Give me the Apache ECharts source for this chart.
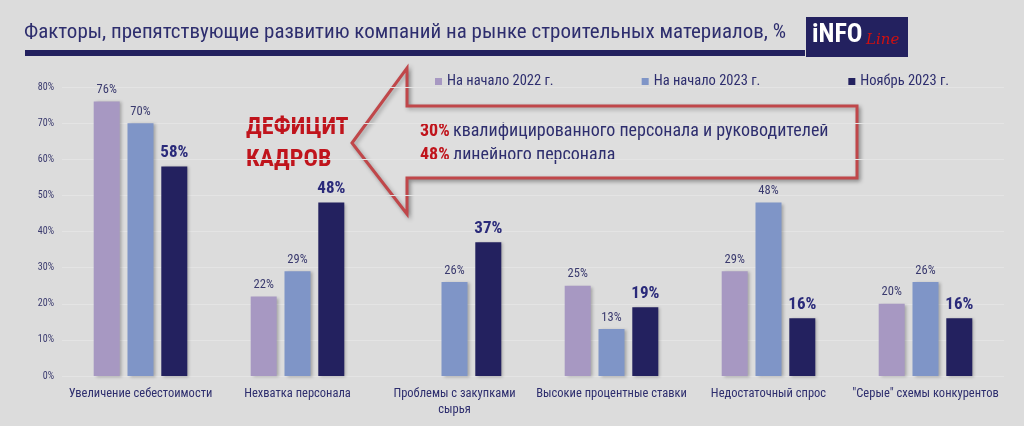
<!DOCTYPE html><html><head><meta charset="utf-8">
<script src="https://cdn.jsdelivr.net/npm/echarts@6/dist/echarts.min.js"></script>
<style>html,body{margin:0;background:#dcdcdc}#c{width:1024px;height:426px}</style></head><body><div id="c"></div>
<script>
const categories=['Увеличение себестоимости','Нехватка персонала','Проблемы с закупками\nсырья','Высокие процентные ставки','Недостаточный спрос','"Серые" схемы конкурентов'];
const seriesNames=['На начало 2022 г.','На начало 2023 г.','Ноябрь 2023 г.'];
const v2022=[76,22,null,25,29,20];
const v2023=[70,29,26,13,48,26];
const vNov=[58,48,37,19,16,16];
const F='"Roboto Condensed","Liberation Sans Narrow","Roboto",sans-serif';
const colors=['#a798c2','#7f95c7','#23215f'];
const chart=echarts.init(document.getElementById('c'));
function s(i,data,bold){return {name:seriesNames[i],type:'bar',data:data,barWidth:26,barGap:'30%',
 itemStyle:{color:colors[i],shadowColor:'rgba(0,0,0,0.25)',shadowBlur:3,shadowOffsetX:2,shadowOffsetY:1},
 label:{show:true,position:'top',distance:5,formatter:'{c}%',fontFamily:F,color:bold?'#2a2a7a':'#3a3a6e',fontSize:bold?17:12.5,fontWeight:bold?'bold':'normal'}};}
chart.setOption({
 backgroundColor:'#dcdcdc',animation:false,
 grid:{left:62,right:20,top:87,bottom:50},
 legend:{top:69,left:430,itemGap:88,itemWidth:7,itemHeight:7,icon:'rect',textStyle:{fontFamily:F,fontSize:14.5,color:'#2e2e6e'},data:seriesNames},
 xAxis:{type:'category',data:categories,axisLine:{show:false},axisTick:{show:false},axisLabel:{interval:0,fontFamily:F,fontSize:12.5,color:'#2e2e6e',margin:10,lineHeight:16}},
 yAxis:{type:'value',min:0,max:80,interval:10,axisLabel:{formatter:'{value}%',fontFamily:F,fontSize:10,color:'#3a3a6e'},splitLine:{lineStyle:{color:'#e4e4e4'}}},
 series:[s(0,v2022,false),s(1,v2023,false),s(2,vNov,true)],
 graphic:[
  {type:'polygon',shape:{points:[[352,143],[407,68],[407,106],[857,106],[857,178],[407,178],[407,214]]},
   style:{fill:'#dedede',stroke:'#c0474a',lineWidth:3,shadowColor:'rgba(0,0,0,0.3)',shadowBlur:4,shadowOffsetX:2,shadowOffsetY:2}},
  {type:'text',x:24,y:22,style:{text:'Факторы, препятствующие развитию компаний на рынке строительных материалов, %',fontFamily:F,fontSize:21,fill:'#2e2e6e'}},
  {type:'rect',shape:{x:25,y:50,width:780,height:6},style:{fill:'#23215f'}},
  {type:'rect',shape:{x:806,y:17,width:102,height:40},style:{fill:'#23215f'}},
  {type:'text',x:812,y:22,style:{text:'iNFO',fontFamily:F,fontSize:26,fontWeight:'bold',fill:'#ffffff'}},
  {type:'text',x:866,y:33,style:{text:'Line',fontFamily:'"DejaVu Serif",serif',fontStyle:'italic',fontSize:15,fill:'#d01010'}},
  {type:'text',x:246,y:112,style:{text:'ДЕФИЦИТ\nКАДРОВ',fontFamily:F,fontSize:24,fontWeight:'bold',fill:'#c0141c',lineHeight:32}},
  {type:'text',x:420,y:119,style:{rich:{r:{fill:'#c0141c',fontWeight:'bold',fontFamily:F,fontSize:18},t:{fill:'#2e2e6e',fontFamily:F,fontSize:18}},text:'{r|30%} {t|квалифицированного персонала и руководителей}\n{r|48%} {t|линейного персонала}',lineHeight:24}}
 ]
});
</script></body></html>
